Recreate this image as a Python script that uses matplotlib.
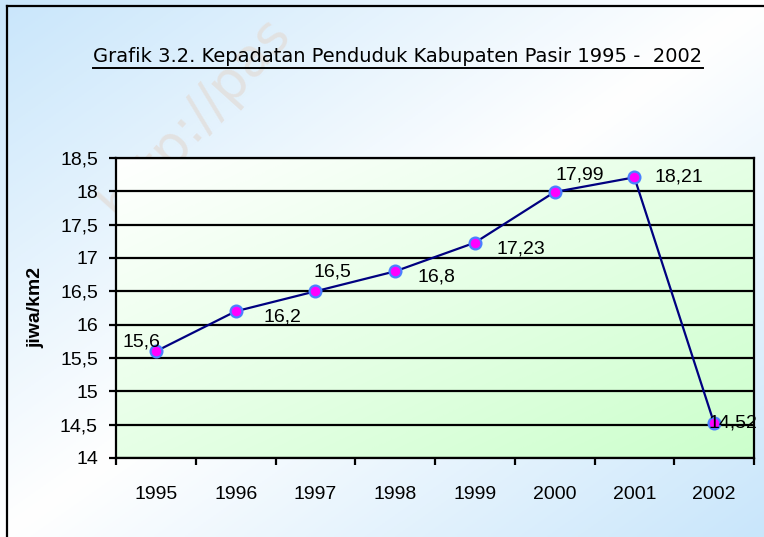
import matplotlib
matplotlib.use("Agg")
import matplotlib.pyplot as plt
import numpy as np
from matplotlib.colors import LinearSegmentedColormap

# data
years = ["1995", "1996", "1997", "1998", "1999", "2000", "2001", "2002"]
density = [15.6, 16.2, 16.5, 16.8, 17.23, 17.99, 18.21, 14.52]
labels = ["15,6", "16,2", "16,5", "16,8", "17,23", "17,99", "18,21", "14,52"]
ytick_vals = [14, 14.5, 15, 15.5, 16, 16.5, 17, 17.5, 18, 18.5]
ytick_labels = ["14", "14,5", "15", "15,5", "16", "16,5", "17", "17,5", "18", "18,5"]

# label offsets in pixels (dx, dy up)
offsets = [(-14, 9), (47, -6), (17, 19), (41, -6), (46, -6), (25, 17), (44, 0), (19, 0)]

W, H = 764, 537
fig = plt.figure(figsize=(W / 100, H / 100), dpi=100)
plt.rcParams['font.family'] = ['Liberation Sans', 'DejaVu Sans']
fs = 14

# figure background: blue - white - blue along the diagonal
bg = fig.add_axes([0, 0, 1, 1], zorder=0)
gx, gy = np.meshgrid(np.linspace(0, 1, 300), np.linspace(0, 1, 300))
t = (gx + gy) / 2
bgcmap = LinearSegmentedColormap.from_list("bg", ["#c9e6fb", "#ffffff", "#c9e6fb"])
bg.imshow(t, cmap=bgcmap, extent=[0, 1, 0, 1], origin="upper", aspect="auto")
bg.set_xlim(0, 1)
bg.set_ylim(0, 1)
bg.axis("off")

# outer frame (left and top visible)
fig.lines.append(plt.Line2D([7 / W, 7 / W], [0, 1 - 6 / H], transform=fig.transFigure, color="black", lw=1.6))
fig.lines.append(plt.Line2D([7 / W, 1], [1 - 6 / H, 1 - 6 / H], transform=fig.transFigure, color="black", lw=1.6))

# watermark
fig.text(195 / W, 1 - 118 / H, "http://pas", rotation=48, fontsize=38, color="#e2e2e2",
         ha="center", va="center", zorder=1, family="DejaVu Sans")

ax = fig.add_axes([116 / W, 1 - 458 / H, (754 - 116) / W, (458 - 158) / H], zorder=2)
ax.patch.set_alpha(0)
x = np.arange(len(years))
ax.set_xlim(-0.5, len(years) - 0.5)
ax.set_ylim(14, 18.5)

# plot area gradient white -> light green
pcmap = LinearSegmentedColormap.from_list("pa", ["#ffffff", "#ccffcc"])
ax.imshow(t, cmap=pcmap, extent=[-0.5, len(years) - 0.5, 14, 18.5], origin="upper",
          aspect="auto", zorder=0)

for v in ytick_vals:
    ax.axhline(v, color="black", lw=1.6, zorder=1)

ax.plot(x, density, color="#000080", lw=1.6, marker="o", markersize=8.5,
        markerfacecolor="#ff00ff", markeredgecolor="#4a80ff", markeredgewidth=1.6, zorder=3)

for xi, yi, lab, (dx, dy) in zip(x, density, labels, offsets):
    ax.annotate(lab, (xi, yi), xytext=(dx * 0.72, dy * 0.72), textcoords="offset points",
                ha="center", va="center", fontsize=fs, color="black", zorder=4)

ax.set_yticks(ytick_vals)
ax.set_yticklabels(ytick_labels, fontsize=fs)
ax.set_xticks(np.arange(len(years) + 1) - 0.5)
ax.set_xticklabels([])
ax.set_xticks(x, minor=True)
ax.set_xticklabels(years, minor=True, fontsize=fs)
ax.tick_params(axis="x", which="minor", length=0, pad=20)
ax.tick_params(axis="x", which="major", length=5, width=1.6, direction="out")
ax.tick_params(axis="y", length=5, width=1.6, direction="out", pad=8)
for s in ax.spines.values():
    s.set_linewidth(1.6)
ax.set_ylabel("jiwa/km2", fontsize=fs, fontweight="bold")
ax.yaxis.set_label_coords(-(116 - 44) / (754 - 116), 0.5)

# underlined title
title = fig.text(398 / W, 1 - 56 / H, "Grafik 3.2. Kepadatan Penduduk Kabupaten Pasir 1995 -  2002",
                 ha="center", va="center", fontsize=14, family="DejaVu Sans", zorder=5)
fig.canvas.draw()
bb = title.get_window_extent().transformed(fig.transFigure.inverted())
fig.lines.append(plt.Line2D([bb.x0, bb.x1], [1 - 68 / H, 1 - 68 / H], transform=fig.transFigure,
                            color="black", lw=1.4))

fig.savefig("out.png", dpi=100)
